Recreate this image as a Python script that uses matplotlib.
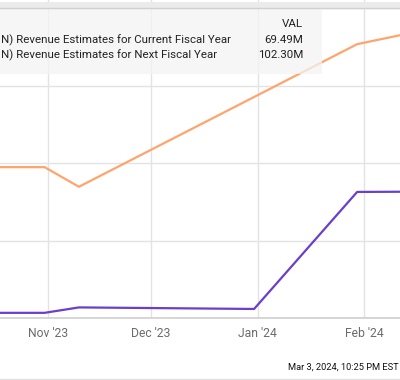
import matplotlib
matplotlib.use("Agg")
import matplotlib.pyplot as plt
from matplotlib.patches import Rectangle
import datetime as dt

plt.rcParams['font.family'] = ['Roboto', 'DejaVu Sans']

# ---- data (values in millions USD) ----
cur_dates = ["2023-10-01", "2023-10-31", "2023-11-10", "2023-12-31", "2024-01-30", "2024-03-01"]
cur_vals = [46.0, 46.0, 47.05, 46.75, 69.4, 69.49]
next_dates = ["2023-10-01", "2023-10-31", "2023-11-10", "2024-01-30", "2024-03-01"]
next_vals = [74.2, 74.2, 70.4, 98.0, 102.3]
tick_dates = ["2023-11-01", "2023-12-01", "2024-01-01", "2024-02-01"]
tick_labels = ["Nov '23", "Dec '23", "Jan '24", "Feb '24"]
legend_names = ["N) Revenue Estimates for Current Fiscal Year",
                "N) Revenue Estimates for Next Fiscal Year"]
legend_vals = ["69.49M", "102.30M"]
y_ticks = [45, 60, 75, 90, 105]

W, H = 400, 380
fig = plt.figure(figsize=(W / 100, H / 100), dpi=100)

def fx(x):
    return x / W

def fy(y):
    return 1 - y / H

# axes covers pixel rows 0..318
ax = fig.add_axes([0, fy(318), 1, 318 / H])

to_d = lambda s: dt.datetime.strptime(s, "%Y-%m-%d")
cd = [to_d(s) for s in cur_dates]
nd = [to_d(s) for s in next_dates]

orange = "#FFA46D"
purple = "#6A3FCC"
ax.plot(nd, next_vals, color=orange, lw=1.6, zorder=3)
ax.plot(cd, cur_vals, color=purple, lw=1.6, zorder=3)

# x range: 3.435 px/day; Nov 1 at px 48
nov1 = to_d("2023-11-01")
ppd = 3.435
x0 = nov1 - dt.timedelta(days=48 / ppd)
x1 = nov1 + dt.timedelta(days=(400 - 48) / ppd)
ax.set_xlim(x0, x1)
ppm = 77.5 / 15.0
ax.set_ylim(45, 45 + 318 / ppm)

ax.set_xticks([to_d(s) for s in tick_dates])
ax.set_xticklabels(tick_labels)
ax.set_yticks(y_ticks)
ax.grid(True, color="#e3e3e3", lw=1, zorder=1)
ax.set_axisbelow(True)
ax.tick_params(axis='x', length=0, pad=6.5, labelsize=8.7, labelcolor="#6b6b6b")
ax.tick_params(axis='y', length=0, labelleft=False)
for s in ["top", "left", "right"]:
    ax.spines[s].set_visible(False)
ax.spines["bottom"].set_color("#cfcfcf")
ax.spines["bottom"].set_linewidth(1.2)
ax.patch.set_alpha(0)

# legend box
fig.patches.append(Rectangle((fx(0), fy(74)), fx(322), (74 - 8) / H,
                             transform=fig.transFigure, facecolor="#f4f4f4",
                             alpha=0.75, edgecolor="none", zorder=0))
# top band
fig.patches.append(Rectangle((0, fy(7.5)), 1, 5.5 / H, transform=fig.transFigure,
                             facecolor="#ebebeb", edgecolor="none", zorder=0))
fig.add_artist(plt.Line2D([0, 1], [fy(8), fy(8)], transform=fig.transFigure,
                          color="#d0d0d0", lw=1))
fig.add_artist(plt.Line2D([0, 1], [fy(379), fy(379)], transform=fig.transFigure,
                          color="#e2e2e2", lw=1))

fs = 8.25
fig.text(fx(303), fy(24), "VAL", ha="right", va="center", fontsize=fs, color="#222222")
for i, (nm, v) in enumerate(zip(legend_names, legend_vals)):
    y = 40 + i * 15
    fig.text(fx(1), fy(y), nm, ha="left", va="center", fontsize=fs, color="#222222")
    fig.text(fx(303), fy(y), v, ha="right", va="center", fontsize=fs, color="#222222")

fig.text(fx(398.5), fy(367), "Mar 3, 2024, 10:25 PM EST", ha="right", va="center",
         fontsize=6.7, color="#111111")

fig.savefig("out.png", dpi=100)
